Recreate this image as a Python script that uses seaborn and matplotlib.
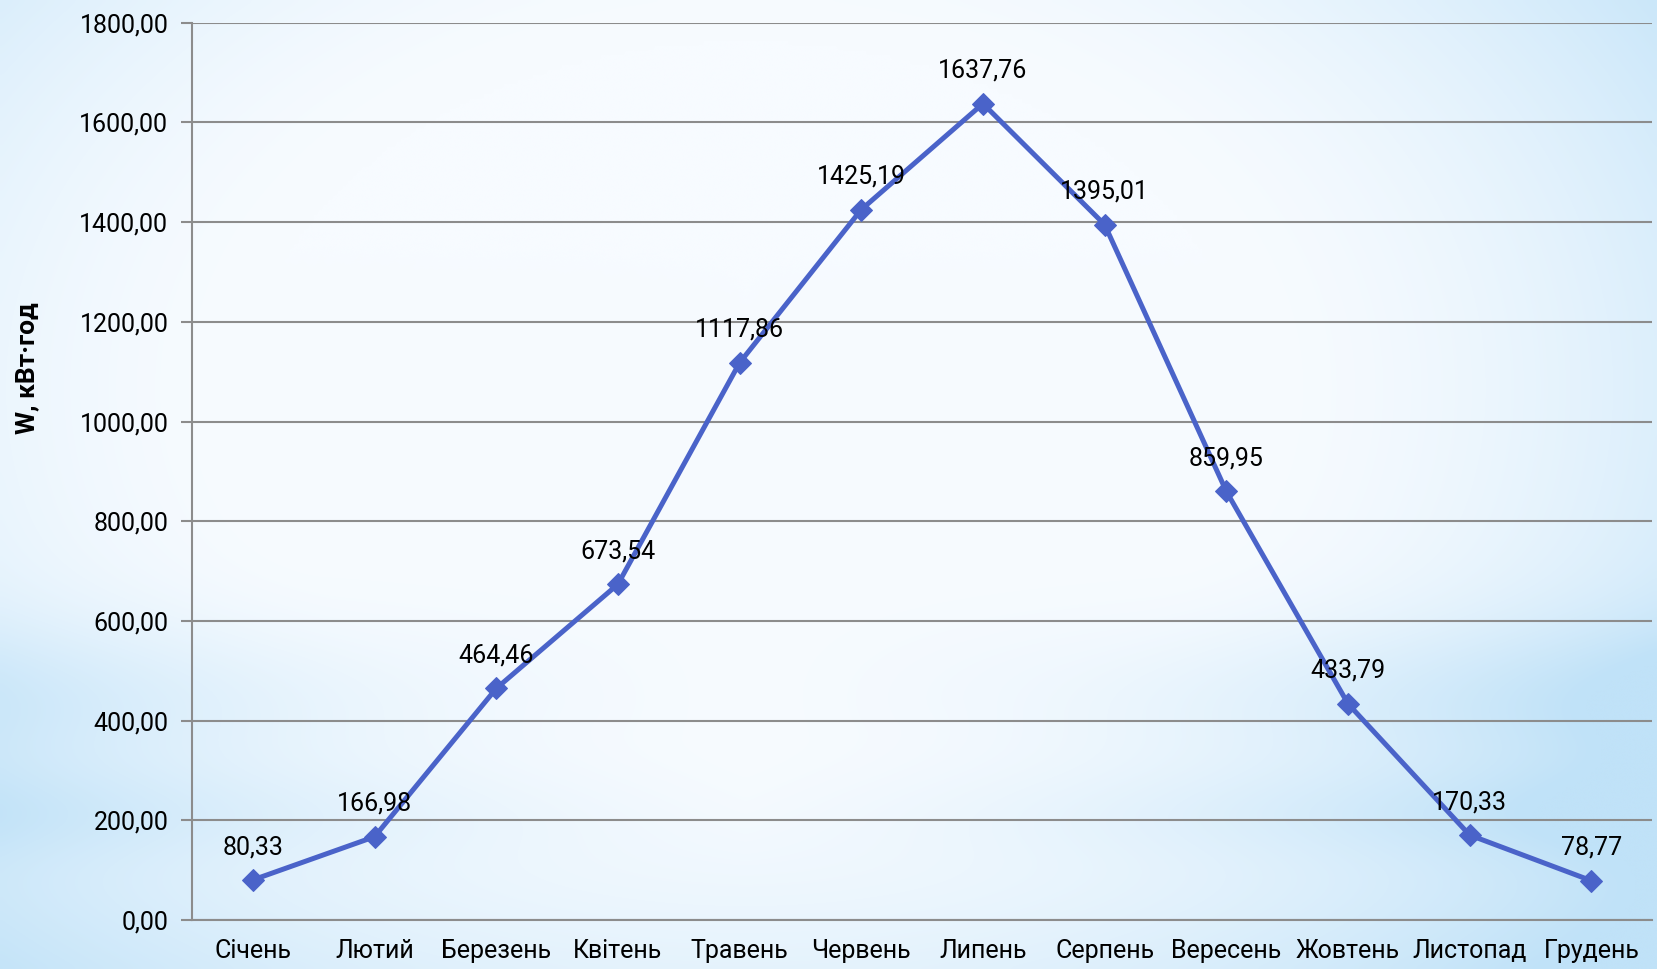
import numpy as np
import matplotlib
matplotlib.use("Agg")
import matplotlib.pyplot as plt
import seaborn as sns
from matplotlib.ticker import FuncFormatter, FixedLocator

months = ["Січень", "Лютий", "Березень", "Квітень", "Травень", "Червень",
          "Липень", "Серпень", "Вересень", "Жовтень", "Листопад", "Грудень"]
values = [80.33, 166.98, 464.46, 673.54, 1117.86, 1425.19,
          1637.76, 1395.01, 859.95, 433.79, 170.33, 78.77]
y_ticks = [0, 200, 400, 600, 800, 1000, 1200, 1400, 1600, 1800]
y_label = "W, кВт·год"

sns.set_theme(style="white")
plt.rcParams['font.family'] = ['Roboto', 'DejaVu Sans']

fig = plt.figure(figsize=(16.57, 9.69), dpi=100)

# background gradient
bg = fig.add_axes([0, 0, 1, 1], zorder=-10)
h, w = 200, 340
yy, xx = np.mgrid[0:h, 0:w]
nx = (xx / (w - 1) - 0.45) * 2
ny = (yy / (h - 1) - 0.4) * 2
r = np.sqrt((nx * 0.9) ** 2 + (ny * 0.75) ** 2)
t = np.clip((r - 0.55) / 0.7, 0, 1) ** 1.6
# horizontal bluish bands near bottom
band = np.exp(-((yy / (h - 1) - 0.72) / 0.08) ** 2) * 0.45 * (np.abs(nx) ** 1.2)
band2 = np.exp(-((yy / (h - 1) - 0.84) / 0.05) ** 2) * 0.35 * (np.abs(nx) ** 1.0)
t = np.clip(t + band + band2, 0, 1)
c_center = np.array([247, 251, 255]) / 255
c_edge = np.array([192, 226, 248]) / 255
img = c_center[None, None, :] * (1 - t[..., None]) + c_edge[None, None, :] * t[..., None]
bg.imshow(img, aspect='auto', extent=[0, 1, 0, 1], interpolation='bicubic')
bg.axis('off')

ax = fig.add_axes([0.1159, 0.0506, 0.9971 - 0.1159, 0.9765 - 0.0506])
ax.patch.set_alpha(0)

line_color = "#4A63C9"
x = np.arange(len(months))
sns.lineplot(x=x, y=values, ax=ax, color=line_color, linewidth=3.6,
             marker='D', markersize=11, markeredgecolor=line_color,
             markerfacecolor=line_color, zorder=5)

for xi, v in zip(x, values):
    ax.annotate(f"{v:.2f}".replace('.', ','), (xi, v), xytext=(0, 15),
                textcoords='offset points', ha='center', va='bottom',
                fontsize=18, color='black', zorder=6)

ax.set_xlim(-0.5, len(months) - 0.5)
ax.set_ylim(0, 1800)
ax.set_yticks(y_ticks)
ax.yaxis.set_major_formatter(FuncFormatter(lambda v, p: f"{v:.2f}".replace('.', ',')))
ax.set_xticks(x)
ax.set_xticklabels(months)
ax.xaxis.set_minor_locator(FixedLocator(np.arange(-0.5, len(months), 1.0)))
ax.tick_params(axis='x', which='major', length=0, pad=14, labelsize=18, colors='black')
ax.tick_params(axis='x', which='minor', length=8, width=1.5, color='#8c8c8c', direction='out')
ax.tick_params(axis='y', which='major', length=8, width=1.5, color='#8c8c8c', direction='out',
               labelsize=18, pad=9, left=True)
for lab in ax.get_yticklabels():
    lab.set_color('black')

ax.grid(axis='y', color='#8c8c8c', linewidth=1.5)
ax.grid(axis='x', visible=False)
ax.set_axisbelow(True)
for s in ['top', 'right']:
    ax.spines[s].set_visible(False)
for s in ['left', 'bottom']:
    ax.spines[s].set_color('#8c8c8c')
    ax.spines[s].set_linewidth(1.5)

ax.set_xlabel("")
ax.set_ylabel(y_label, fontsize=19, fontweight='bold', color='black')
ax.yaxis.set_label_coords(-0.105, 0.615)

fig.savefig("out.png", dpi=100)
